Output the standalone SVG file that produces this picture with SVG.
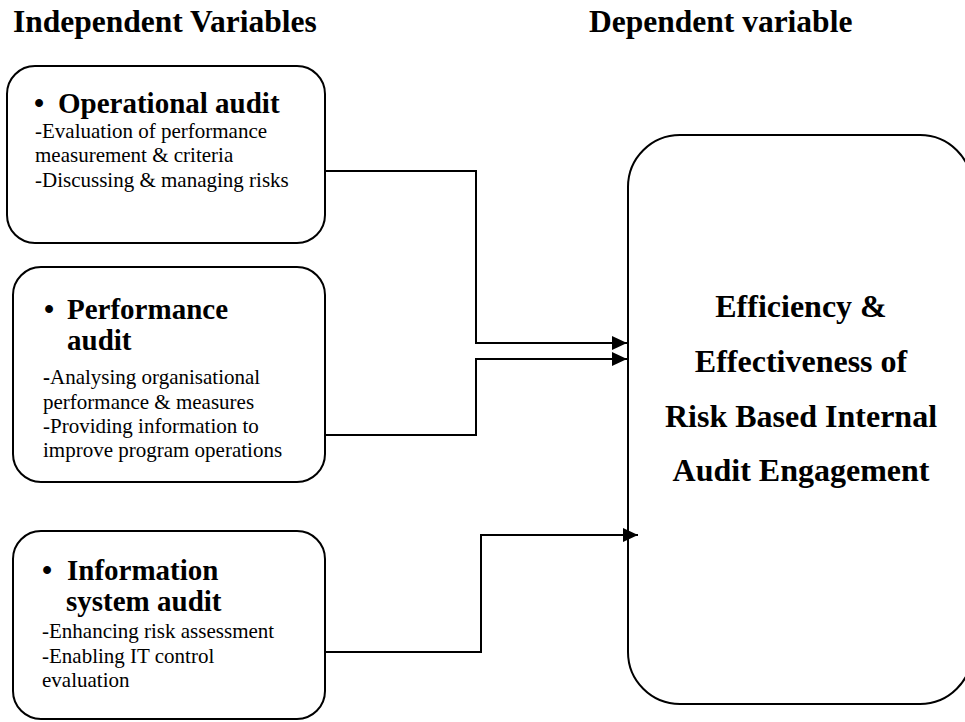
<svg xmlns="http://www.w3.org/2000/svg" width="965" height="722" viewBox="0 0 965 722">
<defs>
<style>
.box{fill:#fff;stroke:#000;stroke-width:2}
.title{font-family:"Liberation Serif","Times New Roman",serif;font-weight:bold;font-size:31.5px;fill:#000}
.head{font-family:"Liberation Serif","Times New Roman",serif;font-weight:bold;font-size:29px;fill:#000}
.body{font-family:"Liberation Serif","Times New Roman",serif;font-size:21px;fill:#000}
.big{font-family:"Liberation Serif","Times New Roman",serif;font-weight:bold;font-size:32px;fill:#000;text-anchor:middle}
.conn{fill:none;stroke:#000;stroke-width:2}
</style>
<marker id="arr" markerUnits="userSpaceOnUse" markerWidth="16" markerHeight="14" refX="15" refY="7" orient="auto">
<path d="M0,0 L15,7 L0,14 Z" fill="#000"/>
</marker>
</defs>
<rect width="965" height="722" fill="#fff"/>
<g id="titles">
<text class="title" x="13" y="32">Independent Variables</text>
<text class="title" x="589" y="32">Dependent variable</text>
</g>
<g id="node-operational">
<rect class="box" x="7" y="66" width="318" height="177" rx="28" ry="28"/>
<text class="head" y="113"><tspan x="34">•</tspan><tspan x="58">Operational audit</tspan></text>
<text class="body" x="35" y="138">-Evaluation of performance</text>
<text class="body" x="35" y="162">measurement &amp; criteria</text>
<text class="body" x="35" y="187">-Discussing &amp; managing risks</text>
</g>
<g id="node-performance">
<rect class="box" x="13" y="267" width="312" height="215" rx="28" ry="28"/>
<text class="head" y="319"><tspan x="44">•</tspan><tspan x="67">Performance</tspan></text>
<text class="head" x="67" y="350">audit</text>
<text class="body" x="43" y="384"><tspan font-weight="bold">-</tspan>Analysing organisational</text>
<text class="body" x="43" y="409">performance &amp; measures</text>
<text class="body" x="43" y="433">-Providing information to</text>
<text class="body" x="43" y="457">improve program operations</text>
</g>
<g id="node-information">
<rect class="box" x="13" y="531" width="312" height="188" rx="28" ry="28"/>
<text class="head" y="580"><tspan x="42">•</tspan><tspan x="67">Information</tspan></text>
<text class="head" x="66" y="611">system audit</text>
<text class="body" x="42" y="638">-Enhancing risk assessment</text>
<text class="body" x="42" y="663">-Enabling IT control</text>
<text class="body" x="42" y="687">evaluation</text>
</g>
<g id="node-dependent">
<rect class="box" x="628" y="135" width="344" height="569" rx="52" ry="52"/>
<text class="big" x="801" y="317">Efficiency &amp;</text>
<text class="big" x="801" y="372">Effectiveness of</text>
<text class="big" x="801" y="427">Risk Based Internal</text>
<text class="big" x="801" y="481">Audit Engagement</text>
</g>
<g id="connectors">
<polyline class="conn" points="325,171 476,171 476,343 627,343" marker-end="url(#arr)"/>
<polyline class="conn" points="325,435 476,435 476,359 627,359" marker-end="url(#arr)"/>
<polyline class="conn" points="325,652 481,652 481,535 638,535" marker-end="url(#arr)"/>
</g>
</svg>
